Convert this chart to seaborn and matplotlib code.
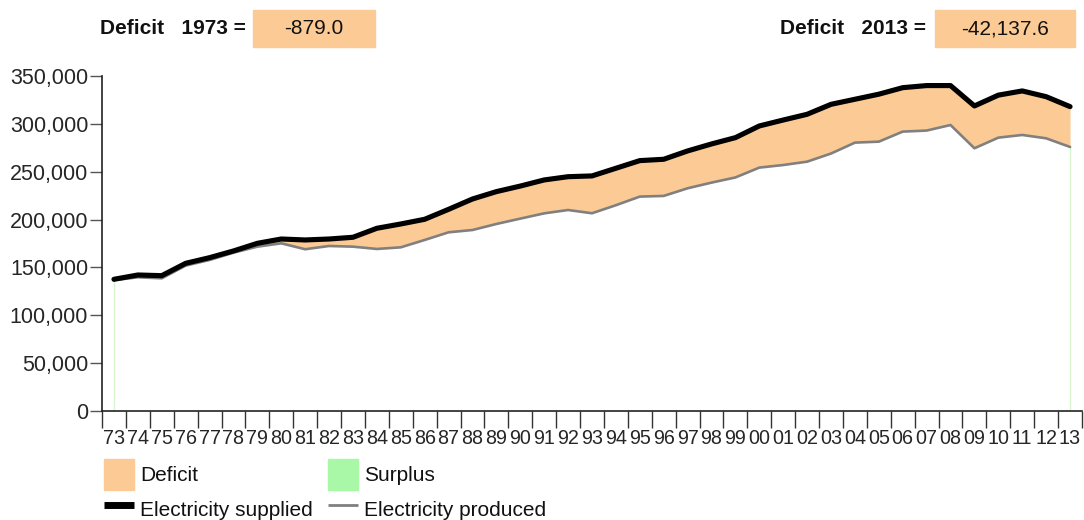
import numpy as np
import pandas as pd
import matplotlib
matplotlib.use("Agg")
import matplotlib.pyplot as plt
import seaborn as sns
from matplotlib.patches import Patch, Rectangle
from matplotlib.lines import Line2D

# -----------------------------------------------------------------
# data
# -----------------------------------------------------------------
years = [str(y)[-2:] for y in range(1973, 2014)]

supplied = [137600, 142100, 141400, 154300, 160200, 167200, 175200, 179700, 178700, 179700,
            181500, 190900, 195400, 200300, 210700, 221500, 229200, 235000, 241400, 244800,
            245600, 253600, 261600, 263000, 271700, 279000, 285600, 297800, 304000, 310000,
            320400, 325700, 331000, 337800, 340000, 340000, 318700, 330000, 334400, 328400,
            318000]

produced = [136721.0, 139700, 138600, 151900, 157800, 165400, 171700, 175200, 169000, 172400,
            171700, 169300, 171000, 178700, 186700, 189100, 195400, 201000, 206500, 210000,
            206600, 215000, 224000, 224700, 232700, 238600, 244000, 254300, 257000, 260500,
            269000, 280400, 281400, 291900, 293000, 298800, 274500, 285600, 288400, 284900,
            275862.4]

df = pd.DataFrame({"year": years, "supplied": supplied, "produced": produced})
df["x"] = np.arange(len(df))
df["balance"] = df["produced"] - df["supplied"]

DEFICIT_C = "#FCCB95"
SURPLUS_C = "#A8F8A8"

# -----------------------------------------------------------------
# figure
# -----------------------------------------------------------------
sns.set_style("ticks")
plt.rcParams["font.family"] = ["Liberation Sans", "DejaVu Sans"]
plt.rcParams["text.color"] = "#111111"

fig = plt.figure(figsize=(10.84, 5.20), dpi=100)
ax = fig.add_axes([102 / 1084, 1 - 411 / 520, 980 / 1084, 335 / 520])

# deficit / surplus areas
ax.fill_between(df["x"], df["produced"], df["supplied"],
                where=df["supplied"] >= df["produced"], color=DEFICIT_C,
                linewidth=0, interpolate=True, zorder=1)
ax.fill_between(df["x"], df["produced"], df["supplied"],
                where=df["supplied"] < df["produced"], color=SURPLUS_C,
                linewidth=0, interpolate=True, zorder=1)
# faint edges of the surplus area at the ends
ax.vlines([df["x"].iloc[0], df["x"].iloc[-1]], 0,
          [df["produced"].iloc[0], df["produced"].iloc[-1]],
          color="#d6f5cc", lw=0.9, zorder=1)

sns.lineplot(data=df, x="x", y="produced", color="#808080", lw=1.9, ax=ax, zorder=3)
sns.lineplot(data=df, x="x", y="supplied", color="black", lw=3.7, ax=ax, zorder=4)

ax.set_xlim(-0.5, len(df) - 0.5)
ax.set_ylim(0, 350000)
ax.set_xlabel("")
ax.set_ylabel("")

# y axis
ax.set_yticks(np.arange(0, 350001, 50000))
ax.set_yticklabels([f"{v:,}" for v in range(0, 350001, 50000)], fontsize=15.5)
ax.tick_params(axis="y", length=9, width=1, color="#555555", pad=1)

# x axis: ticks at category boundaries, labels centred
ax.set_xticks(np.arange(-0.5, len(df), 1.0))
ax.set_xticklabels([])
ax.tick_params(axis="x", which="major", length=12, width=1, color="#333333")
ax.set_xticks(df["x"], minor=True)
ax.set_xticklabels(df["year"], minor=True, fontsize=14.2)
ax.tick_params(axis="x", which="minor", length=0, pad=13)

sns.despine(ax=ax)
for s in ["left", "bottom"]:
    ax.spines[s].set_linewidth(1.2)
    ax.spines[s].set_color("#222222")

# header boxes
def header(label, value, x_label, x0, x1):
    fig.text(x_label / 1084, 1 - 29 / 520, label, ha="right", va="center",
             fontsize=15, fontweight="bold")
    fig.patches.append(Rectangle((x0 / 1084, 1 - 47 / 520), (x1 - x0) / 1084, 37 / 520,
                                 transform=fig.transFigure, color=DEFICIT_C, zorder=0))
    fig.text((x0 + x1) / 2 / 1084, 1 - 29 / 520, f"{value:,.1f}", ha="center",
             va="center", fontsize=15)

header(f"Deficit   {1900 + int(years[0])} =", df["balance"].iloc[0], 246, 253, 375)
header(f"Deficit   {2000 + int(years[-1])} =", df["balance"].iloc[-1], 926, 935, 1075)

# legend
handles = [
    Patch(color=DEFICIT_C, label="Deficit"),
    Line2D([], [], color="black", lw=5, solid_capstyle="butt", label="Electricity supplied"),
    Patch(color=SURPLUS_C, label="Surplus"),
    Line2D([], [], color="#808080", lw=2, solid_capstyle="butt", label="Electricity produced"),
]
fig.legend(handles=handles, ncol=2, loc="upper left",
           bbox_to_anchor=(104 / 1084, 1 - 459 / 520), frameon=False,
           fontsize=15, handlelength=1.45, handleheight=1.9, handletextpad=0.3,
           labelspacing=0.22, columnspacing=0.7, borderpad=0, borderaxespad=0)

fig.savefig("out.png", dpi=100)
